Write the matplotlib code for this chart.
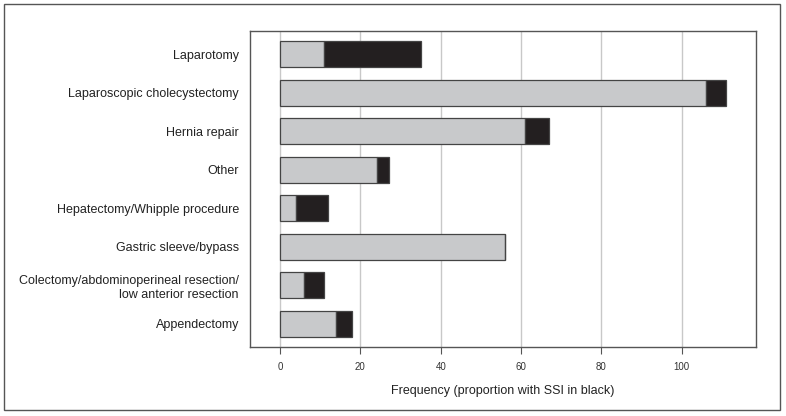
import matplotlib.pyplot as plt
from matplotlib.patches import Rectangle

plt.rcParams['font.family'] = ['Liberation Sans', 'DejaVu Sans']

procedures = [
    'Laparotomy',
    'Laparoscopic cholecystectomy',
    'Hernia repair',
    'Other',
    'Hepatectomy/Whipple procedure',
    'Gastric sleeve/bypass',
    'Colectomy/abdominoperineal resection/\nlow anterior resection',
    'Appendectomy',
]
no_ssi = [11, 106, 61, 24, 4, 56, 6, 14]
ssi = [24, 5, 6, 3, 8, 0, 5, 4]
xticks = [0, 20, 40, 60, 80, 100]

fig = plt.figure(figsize=(7.86, 4.16), dpi=100)
ax = fig.add_axes([250 / 786, 1 - 347 / 416, (756 - 250) / 786, (347 - 31) / 416])

# outer frame around the whole figure
fig.patches.append(Rectangle((4 / 786, 6 / 416), 776 / 786, 406 / 416,
                             transform=fig.transFigure, fill=False,
                             edgecolor='#555555', linewidth=1.0))

ypos = list(range(len(procedures)))
ax.barh(ypos, no_ssi, height=0.67, color='#c8c9cb', edgecolor='#444444',
        linewidth=0.9, zorder=3)
ax.barh(ypos, ssi, left=no_ssi, height=0.67, color='#231f20',
        edgecolor='#444444', linewidth=0.9, zorder=3)

ax.set_xlim(-7.5, 118.5)
ax.set_ylim(len(procedures) - 0.4, -0.6)
ax.set_yticks(ypos)
ax.set_yticklabels(procedures, fontsize=9, color='#222222')
ax.tick_params(axis='y', length=0, pad=8)
ax.set_xticks(xticks)
ax.set_xticklabels([str(t) for t in xticks], fontsize=7, color='#333333')
ax.tick_params(axis='x', length=5, width=0.8, color='#555555', pad=6)
ax.grid(axis='x', color='#c8c8c8', linewidth=1.0, zorder=0)
for s in ax.spines.values():
    s.set_color('#555555')
    s.set_linewidth(1.0)

ax.set_xlabel('Frequency (proportion with SSI in black)', fontsize=9,
              color='#222222', labelpad=9)

fig.savefig('out.png', dpi=100)
